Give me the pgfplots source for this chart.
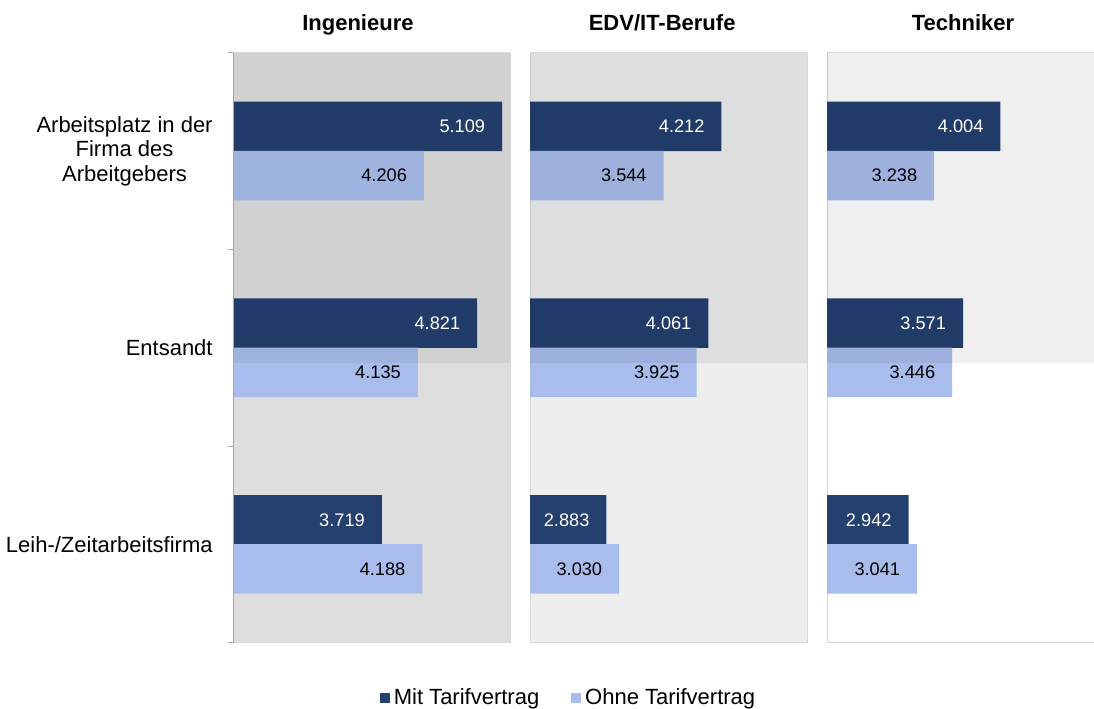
\documentclass[border=0pt]{standalone}
\usepackage{pgfplots}
\pgfplotsset{compat=1.18}
\usepackage{fontspec}
\setmainfont{Liberation Sans}
\definecolor{dark}{HTML}{23406F}
\definecolor{light}{HTML}{A8BDEB}
\definecolor{bgA}{HTML}{DDDDDD}
\definecolor{bgB}{HTML}{EEEEEE}
\definecolor{bgC}{HTML}{FFFFFF}
\pgfplotsset{
 panel/.style={
  anchor=north west, width=138.5bp, height=295bp, scale only axis,
  xbar, bar width=24.75bp, bar shift=0pt,
  xmin=2, xmax=5.2, ymin=-0.5, ymax=2.5, y dir=reverse,
  xtick=\empty, ytick=\empty,
  axis line style={draw=black!15, line width=0.5bp},
  point meta=x,
  nodes near coords={\pgfmathprintnumber[fixed,fixed zerofill,precision=3]{\pgfplotspointmeta}},
  every node near coord/.append style={anchor=east, xshift=-5bp, font=\fontsize{9.1bp}{10bp}\selectfont},
  /pgf/number format/assume math mode=true,
  title style={anchor=base, yshift=4.9bp, inner sep=0pt, font=\bfseries\fontsize{11bp}{12bp}\selectfont},
 },
 darkbar/.style={fill=dark, draw=none, every node near coord/.append style={text=white}},
 lightbar/.style={fill=light, draw=none, every node near coord/.append style={text=black}},
}
\begin{document}
\begin{tikzpicture}
\useasboundingbox (0bp,0bp) rectangle (547bp,-354.5bp);
% Panel 1
\begin{axis}[panel, at={(116.5bp,-26.35bp)},
  axis background/.style={fill=bgA},
  title={Ingenieure}, title style={at={(axis description cs:0.451,1)}},
  ytick={0,1,2},
  yticklabels={{Arbeitsplatz in der\\Firma des\\Arbeitgebers},Entsandt,Leih-/Zeitarbeitsfirma},
  major tick length=0pt,
  minor ytick={-0.5,0.5,1.5,2.5}, minor tick length=2.5bp,
  tick align=outside, ytick pos=left,
  minor tick style={draw=gray!70, line width=0.5bp},
  yticklabel style={align=center, inner sep=0pt, xshift=-10bp, font=\fontsize{11bp}{12.25bp}\selectfont},
]
\addplot[darkbar] coordinates {(5.109,-0.125) (4.821,0.875) (3.719,1.875)};
\addplot[lightbar] coordinates {(4.206,0.125) (4.135,1.125) (4.188,2.125)};
\fill[black, opacity=0.05] (axis cs:2,-0.5) rectangle (axis cs:5.2,1.077);
\draw[gray!70, line width=0.6bp] (axis description cs:0,0) -- (axis description cs:0,1);
\end{axis}
% Panel 2
\begin{axis}[panel, at={(265bp,-26.35bp)},
  axis background/.style={fill=bgB},
  title={EDV/IT-Berufe}, title style={at={(axis description cs:0.477,1)}},
  legend style={at={(axis description cs:0.1426,-0.0937)}, anchor=center, draw=none, fill=none,
    legend columns=2, font=\fontsize{11bp}{12bp}\selectfont,
    /tikz/every even column/.append style={column sep=14bp}, inner sep=0pt},
  legend image code/.code={\fill[#1] (0bp,-2.5bp) rectangle (5bp,2.5bp);},
]
\addplot[darkbar] coordinates {(4.212,-0.125) (4.061,0.875) (2.883,1.875)};
\addlegendentry{Mit Tarifvertrag}
\addplot[lightbar] coordinates {(3.544,0.125) (3.925,1.125) (3.030,2.125)};
\addlegendentry{Ohne Tarifvertrag}
\fill[black, opacity=0.067] (axis cs:2,-0.5) rectangle (axis cs:5.2,1.077);
\end{axis}
% Panel 3
\begin{axis}[panel, at={(413.5bp,-26.35bp)},
  axis background/.style={fill=bgC},
  title={Techniker}, title style={at={(axis description cs:0.491,1)}},
]
\addplot[darkbar] coordinates {(4.004,-0.125) (3.571,0.875) (2.942,1.875)};
\addplot[lightbar] coordinates {(3.238,0.125) (3.446,1.125) (3.041,2.125)};
\fill[black, opacity=0.063] (axis cs:2,-0.5) rectangle (axis cs:5.2,1.077);
\end{axis}
\end{tikzpicture}
\end{document}
